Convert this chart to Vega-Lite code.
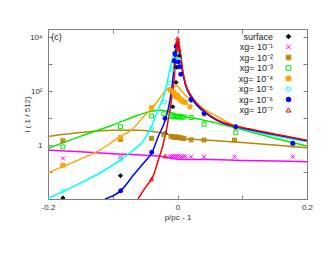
{
"$schema": "https://vega.github.io/schema/vega-lite/v6.json",
"width": 259, "height": 170,
"autosize": "none",
"padding": {"left": 48, "top": 29, "right": 23, "bottom": 56},
"config": {"font": "Liberation Sans", "view": {"stroke": "#808080", "strokeWidth": 1}},
"datasets": {
"lines": [
{"s":"xg= 10⁻¹","x":-0.2,"y":0.65},{"s":"xg= 10⁻¹","x":-0.15,"y":0.56},{"s":"xg= 10⁻¹","x":-0.1,"y":0.48},{"s":"xg= 10⁻¹","x":-0.05,"y":0.42},{"s":"xg= 10⁻¹","x":-0.022,"y":0.37},{"s":"xg= 10⁻¹","x":-0.009,"y":0.32},{"s":"xg= 10⁻¹","x":0,"y":0.3},{"s":"xg= 10⁻¹","x":0.05,"y":0.29},{"s":"xg= 10⁻¹","x":0.1,"y":0.27},{"s":"xg= 10⁻¹","x":0.15,"y":0.255},{"s":"xg= 10⁻¹","x":0.2,"y":0.24},
{"s":"xg= 10⁻²","x":-0.2,"y":2.07},{"s":"xg= 10⁻²","x":-0.15,"y":2.9},{"s":"xg= 10⁻²","x":-0.1,"y":3.5},{"s":"xg= 10⁻²","x":-0.06,"y":3.5},{"s":"xg= 10⁻²","x":-0.04,"y":3.2},{"s":"xg= 10⁻²","x":-0.02,"y":2.7},{"s":"xg= 10⁻²","x":-0.01,"y":2.3},{"s":"xg= 10⁻²","x":0,"y":1.9},{"s":"xg= 10⁻²","x":0.01,"y":1.75},{"s":"xg= 10⁻²","x":0.03,"y":1.6},{"s":"xg= 10⁻²","x":0.06,"y":1.45},{"s":"xg= 10⁻²","x":0.1,"y":1.25},{"s":"xg= 10⁻²","x":0.15,"y":1.0},{"s":"xg= 10⁻²","x":0.2,"y":0.79},
{"s":"xg= 10⁻³","x":-0.2,"y":0.75},{"s":"xg= 10⁻³","x":-0.15,"y":2.1},{"s":"xg= 10⁻³","x":-0.1,"y":5.5},{"s":"xg= 10⁻³","x":-0.06,"y":13},{"s":"xg= 10⁻³","x":-0.04,"y":18},{"s":"xg= 10⁻³","x":-0.025,"y":19.5},{"s":"xg= 10⁻³","x":-0.01,"y":16},{"s":"xg= 10⁻³","x":0,"y":13.5},{"s":"xg= 10⁻³","x":0.01,"y":11.5},{"s":"xg= 10⁻³","x":0.03,"y":9.5},{"s":"xg= 10⁻³","x":0.06,"y":6.5},{"s":"xg= 10⁻³","x":0.1,"y":3.7},{"s":"xg= 10⁻³","x":0.15,"y":1.8},{"s":"xg= 10⁻³","x":0.2,"y":0.92},
{"s":"xg= 10⁻⁴","x":-0.2,"y":0.094},{"s":"xg= 10⁻⁴","x":-0.15,"y":0.3},{"s":"xg= 10⁻⁴","x":-0.12,"y":0.65},{"s":"xg= 10⁻⁴","x":-0.09,"y":1.95},{"s":"xg= 10⁻⁴","x":-0.07,"y":3.8},{"s":"xg= 10⁻⁴","x":-0.05,"y":13},{"s":"xg= 10⁻⁴","x":-0.04,"y":22},{"s":"xg= 10⁻⁴","x":-0.03,"y":45},{"s":"xg= 10⁻⁴","x":-0.02,"y":95},{"s":"xg= 10⁻⁴","x":-0.01,"y":140},{"s":"xg= 10⁻⁴","x":0,"y":150},{"s":"xg= 10⁻⁴","x":0.005,"y":110},{"s":"xg= 10⁻⁴","x":0.01,"y":80},{"s":"xg= 10⁻⁴","x":0.02,"y":48},{"s":"xg= 10⁻⁴","x":0.03,"y":32},{"s":"xg= 10⁻⁴","x":0.04,"y":22},{"s":"xg= 10⁻⁴","x":0.06,"y":12},{"s":"xg= 10⁻⁴","x":0.08,"y":6.5},{"s":"xg= 10⁻⁴","x":0.11,"y":3.9},{"s":"xg= 10⁻⁴","x":0.16,"y":2.2},{"s":"xg= 10⁻⁴","x":0.2,"y":1.4},
{"s":"xg= 10⁻⁵","x":-0.2,"y":0.0105},{"s":"xg= 10⁻⁵","x":-0.15,"y":0.039},{"s":"xg= 10⁻⁵","x":-0.12,"y":0.092},{"s":"xg= 10⁻⁵","x":-0.088,"y":0.28},{"s":"xg= 10⁻⁵","x":-0.07,"y":0.6},{"s":"xg= 10⁻⁵","x":-0.053,"y":1.4},{"s":"xg= 10⁻⁵","x":-0.04,"y":5},{"s":"xg= 10⁻⁵","x":-0.03,"y":20},{"s":"xg= 10⁻⁵","x":-0.024,"y":45},{"s":"xg= 10⁻⁵","x":-0.018,"y":120},{"s":"xg= 10⁻⁵","x":-0.012,"y":600},{"s":"xg= 10⁻⁵","x":-0.006,"y":2000},{"s":"xg= 10⁻⁵","x":-0.002,"y":4500},{"s":"xg= 10⁻⁵","x":0,"y":5000},{"s":"xg= 10⁻⁵","x":0.003,"y":2000},{"s":"xg= 10⁻⁵","x":0.006,"y":900},{"s":"xg= 10⁻⁵","x":0.01,"y":300},{"s":"xg= 10⁻⁵","x":0.02,"y":65},{"s":"xg= 10⁻⁵","x":0.04,"y":18},{"s":"xg= 10⁻⁵","x":0.06,"y":8.5},{"s":"xg= 10⁻⁵","x":0.1,"y":4},{"s":"xg= 10⁻⁵","x":0.15,"y":2.2},{"s":"xg= 10⁻⁵","x":0.2,"y":1.35},
{"s":"xg= 10⁻⁶","x":-0.112,"y":0.01},{"s":"xg= 10⁻⁶","x":-0.088,"y":0.02},{"s":"xg= 10⁻⁶","x":-0.068,"y":0.077},{"s":"xg= 10⁻⁶","x":-0.05,"y":0.25},{"s":"xg= 10⁻⁶","x":-0.04,"y":0.5},{"s":"xg= 10⁻⁶","x":-0.03,"y":2},{"s":"xg= 10⁻⁶","x":-0.019,"y":8.4},{"s":"xg= 10⁻⁶","x":-0.0116,"y":46},{"s":"xg= 10⁻⁶","x":-0.006,"y":500},{"s":"xg= 10⁻⁶","x":-0.004,"y":1500},{"s":"xg= 10⁻⁶","x":-0.001,"y":6000},{"s":"xg= 10⁻⁶","x":0,"y":7000},{"s":"xg= 10⁻⁶","x":0.002,"y":4000},{"s":"xg= 10⁻⁶","x":0.005,"y":1500},{"s":"xg= 10⁻⁶","x":0.008,"y":500},{"s":"xg= 10⁻⁶","x":0.012,"y":180},{"s":"xg= 10⁻⁶","x":0.02,"y":65},{"s":"xg= 10⁻⁶","x":0.03,"y":30},{"s":"xg= 10⁻⁶","x":0.04,"y":18},{"s":"xg= 10⁻⁶","x":0.06,"y":8.5},{"s":"xg= 10⁻⁶","x":0.08,"y":5.5},{"s":"xg= 10⁻⁶","x":0.11,"y":3.8},{"s":"xg= 10⁻⁶","x":0.16,"y":2.2},{"s":"xg= 10⁻⁶","x":0.2,"y":1.45},
{"s":"xg= 10⁻⁷","x":-0.061,"y":0.01},{"s":"xg= 10⁻⁷","x":-0.05,"y":0.026},{"s":"xg= 10⁻⁷","x":-0.0363,"y":0.085},{"s":"xg= 10⁻⁷","x":-0.03,"y":0.26},{"s":"xg= 10⁻⁷","x":-0.0224,"y":1},{"s":"xg= 10⁻⁷","x":-0.0116,"y":20},{"s":"xg= 10⁻⁷","x":-0.0054,"y":255},{"s":"xg= 10⁻⁷","x":-0.0015,"y":3300},{"s":"xg= 10⁻⁷","x":0,"y":8500},{"s":"xg= 10⁻⁷","x":0.002,"y":6000},{"s":"xg= 10⁻⁷","x":0.005,"y":2200},{"s":"xg= 10⁻⁷","x":0.008,"y":600},{"s":"xg= 10⁻⁷","x":0.012,"y":200},{"s":"xg= 10⁻⁷","x":0.02,"y":75},{"s":"xg= 10⁻⁷","x":0.03,"y":35},{"s":"xg= 10⁻⁷","x":0.04,"y":20},{"s":"xg= 10⁻⁷","x":0.06,"y":9},{"s":"xg= 10⁻⁷","x":0.08,"y":5.8},{"s":"xg= 10⁻⁷","x":0.11,"y":4},{"s":"xg= 10⁻⁷","x":0.16,"y":2.3},{"s":"xg= 10⁻⁷","x":0.2,"y":1.5}
],
"pts": [
{"s":"surface","x":-0.177,"y":0.011},{"s":"surface","x":-0.088,"y":0.073},{"s":"surface","x":-0.019,"y":2.7},{"s":"surface","x":-0.0074,"y":26},{"s":"surface","x":-0.0023,"y":210},{"s":"surface","x":-0.0012,"y":760},{"s":"surface","x":-0.0039,"y":2700},{"s":"surface","x":0.0028,"y":2000},{"s":"surface","x":0.021,"y":45},{"s":"surface","x":0.041,"y":15},{"s":"surface","x":0.09,"y":4.6},{"s":"surface","x":0.178,"y":1.15},
{"s":"xg= 10⁻¹","x":-0.177,"y":0.32},{"s":"xg= 10⁻¹","x":-0.088,"y":0.35},{"s":"xg= 10⁻¹","x":-0.012,"y":0.38},{"s":"xg= 10⁻¹","x":-0.009,"y":0.38},{"s":"xg= 10⁻¹","x":-0.006,"y":0.39},{"s":"xg= 10⁻¹","x":-0.003,"y":0.38},{"s":"xg= 10⁻¹","x":0,"y":0.39},{"s":"xg= 10⁻¹","x":0.003,"y":0.38},{"s":"xg= 10⁻¹","x":0.006,"y":0.38},{"s":"xg= 10⁻¹","x":0.009,"y":0.37},{"s":"xg= 10⁻¹","x":0.012,"y":0.38},{"s":"xg= 10⁻¹","x":0.021,"y":0.37},{"s":"xg= 10⁻¹","x":0.041,"y":0.37},{"s":"xg= 10⁻¹","x":0.088,"y":0.37},{"s":"xg= 10⁻¹","x":0.178,"y":0.37},
{"s":"xg= 10⁻²","x":-0.177,"y":1.44},{"s":"xg= 10⁻²","x":-0.088,"y":1.63},{"s":"xg= 10⁻²","x":-0.04,"y":1.77},{"s":"xg= 10⁻²","x":-0.021,"y":2.5},{"s":"xg= 10⁻²","x":-0.01,"y":2.1},{"s":"xg= 10⁻²","x":-0.007,"y":2.0},{"s":"xg= 10⁻²","x":-0.004,"y":1.9},{"s":"xg= 10⁻²","x":-0.002,"y":2.0},{"s":"xg= 10⁻²","x":0,"y":1.95},{"s":"xg= 10⁻²","x":0.002,"y":1.85},{"s":"xg= 10⁻²","x":0.004,"y":1.9},{"s":"xg= 10⁻²","x":0.007,"y":1.8},{"s":"xg= 10⁻²","x":0.01,"y":1.75},{"s":"xg= 10⁻²","x":0.021,"y":1.55},{"s":"xg= 10⁻²","x":0.041,"y":1.53},{"s":"xg= 10⁻²","x":0.088,"y":1.53},{"s":"xg= 10⁻²","x":0.178,"y":1.0},
{"s":"xg= 10⁻³","x":-0.177,"y":0.85},{"s":"xg= 10⁻³","x":-0.088,"y":4.8},{"s":"xg= 10⁻³","x":-0.04,"y":11.9},{"s":"xg= 10⁻³","x":-0.021,"y":14.4},{"s":"xg= 10⁻³","x":-0.01,"y":11.5},{"s":"xg= 10⁻³","x":-0.007,"y":11.8},{"s":"xg= 10⁻³","x":-0.004,"y":11},{"s":"xg= 10⁻³","x":-0.002,"y":11.5},{"s":"xg= 10⁻³","x":0,"y":11.2},{"s":"xg= 10⁻³","x":0.002,"y":11},{"s":"xg= 10⁻³","x":0.004,"y":11.3},{"s":"xg= 10⁻³","x":0.007,"y":10.8},{"s":"xg= 10⁻³","x":0.01,"y":11},{"s":"xg= 10⁻³","x":0.021,"y":10.5},{"s":"xg= 10⁻³","x":0.041,"y":5.9},{"s":"xg= 10⁻³","x":0.09,"y":2.86},{"s":"xg= 10⁻³","x":0.178,"y":1.16},
{"s":"xg= 10⁻⁴","x":-0.177,"y":0.18},{"s":"xg= 10⁻⁴","x":-0.088,"y":1.93},{"s":"xg= 10⁻⁴","x":-0.04,"y":24},{"s":"xg= 10⁻⁴","x":-0.0116,"y":109},{"s":"xg= 10⁻⁴","x":-0.006,"y":90},{"s":"xg= 10⁻⁴","x":-0.004,"y":75},{"s":"xg= 10⁻⁴","x":-0.002,"y":60},{"s":"xg= 10⁻⁴","x":0,"y":70},{"s":"xg= 10⁻⁴","x":0.002,"y":55},{"s":"xg= 10⁻⁴","x":0.004,"y":50},{"s":"xg= 10⁻⁴","x":0.006,"y":45},{"s":"xg= 10⁻⁴","x":0.008,"y":42},{"s":"xg= 10⁻⁴","x":0.01,"y":40},{"s":"xg= 10⁻⁴","x":0.012,"y":38},{"s":"xg= 10⁻⁴","x":0.0193,"y":26},{"s":"xg= 10⁻⁴","x":0.041,"y":14},{"s":"xg= 10⁻⁴","x":0.09,"y":4.5},{"s":"xg= 10⁻⁴","x":0.178,"y":1.12},
{"s":"xg= 10⁻⁵","x":-0.177,"y":0.02},{"s":"xg= 10⁻⁵","x":-0.088,"y":0.29},{"s":"xg= 10⁻⁵","x":-0.04,"y":4},{"s":"xg= 10⁻⁵","x":-0.02,"y":40},{"s":"xg= 10⁻⁵","x":-0.012,"y":200},{"s":"xg= 10⁻⁵","x":-0.008,"y":600},{"s":"xg= 10⁻⁵","x":-0.005,"y":1500},{"s":"xg= 10⁻⁵","x":-0.002,"y":3000},{"s":"xg= 10⁻⁵","x":0.002,"y":1500},{"s":"xg= 10⁻⁵","x":0.021,"y":48},{"s":"xg= 10⁻⁵","x":0.041,"y":15},{"s":"xg= 10⁻⁵","x":0.09,"y":4.7},{"s":"xg= 10⁻⁵","x":0.178,"y":1.15},
{"s":"xg= 10⁻⁶","x":-0.0877,"y":0.0203},{"s":"xg= 10⁻⁶","x":-0.0398,"y":0.54},{"s":"xg= 10⁻⁶","x":-0.0193,"y":9.7},{"s":"xg= 10⁻⁶","x":-0.0054,"y":1320},{"s":"xg= 10⁻⁶","x":-0.0039,"y":2340},{"s":"xg= 10⁻⁶","x":-0.002,"y":4500},{"s":"xg= 10⁻⁶","x":0.001,"y":1200},{"s":"xg= 10⁻⁶","x":0.003,"y":800},{"s":"xg= 10⁻⁶","x":0.005,"y":420},{"s":"xg= 10⁻⁶","x":0.0209,"y":49},{"s":"xg= 10⁻⁶","x":0.0414,"y":14.9},{"s":"xg= 10⁻⁶","x":0.0899,"y":4.76},{"s":"xg= 10⁻⁶","x":0.178,"y":1.16},
{"s":"xg= 10⁻⁷","x":-0.04,"y":0.055},{"s":"xg= 10⁻⁷","x":-0.019,"y":0.39},{"s":"xg= 10⁻⁷","x":-0.001,"y":6000},{"s":"xg= 10⁻⁷","x":-0.0005,"y":4000},{"s":"xg= 10⁻⁷","x":0,"y":9000},{"s":"xg= 10⁻⁷","x":0.0005,"y":7000},{"s":"xg= 10⁻⁷","x":0.001,"y":5000},{"s":"xg= 10⁻⁷","x":0.002,"y":3500}
]
},
"layer": [
{
"data": {"name": "lines"},
"mark": {"type": "line", "strokeWidth": 1.5, "clip": true, "interpolate": "monotone"},
"encoding": {
"x": {"field": "x", "type": "quantitative", "scale": {"domain": [-0.2, 0.2], "nice": false, "zero": false},
 "axis": {"orient": "bottom", "values": [-0.2, -0.1, 0, 0.1, 0.2], "labelExpr": "datum.value == -0.2 ? '-0.2' : datum.value == 0 ? '0' : datum.value == 0.2 ? '0.2' : ''", "tickSize": -4, "tickColor": "#808080", "labelPadding": 8, "labelFontSize": 8, "labelColor": "#333333", "labelFlush": false, "domain": false, "grid": false, "title": "p/pc - 1", "titleFontSize": 8, "titleFontWeight": "normal", "titleColor": "#333333", "titlePadding": 2}},
"y": {"field": "y", "type": "quantitative", "scale": {"type": "log", "domain": [0.01, 20000], "nice": false},
 "axis": {"orient": "left", "values": [0.01, 0.1, 1, 10, 100, 1000, 10000], "labelExpr": "datum.value == 1 ? '1' : datum.value == 100 ? '10²' : datum.value == 10000 ? '10⁴' : ''", "tickSize": -4, "tickColor": "#808080", "labelPadding": 10, "labelFontSize": 8, "labelColor": "#333333", "labelFlush": false, "domain": false, "grid": false, "title": "I ( 1 / 512)", "titleFontSize": 8, "titleFontWeight": "normal", "titleColor": "#333333", "titleX": -17, "titleBaseline": "bottom"}},
"color": {"field": "s", "type": "nominal", "scale": {"domain": ["xg= 10⁻¹","xg= 10⁻²","xg= 10⁻³","xg= 10⁻⁴","xg= 10⁻⁵","xg= 10⁻⁶","xg= 10⁻⁷"], "range": ["#ff00ff","#b8860b","#00ee00","#ffa500","#00ffff","#0000ff","#ff0000"]}, "legend": null}
}
},
{
"data": {"name": "pts"},
"mark": {"type": "point", "filled": false, "strokeWidth": 1, "size": 16, "clip": true, "opacity": 1},
"encoding": {
"x": {"field": "x", "type": "quantitative", "axis": null},
"y": {"field": "y", "type": "quantitative", "axis": null},
"shape": {"field": "s", "type": "nominal", "scale": {"domain": ["surface","xg= 10⁻¹","xg= 10⁻²","xg= 10⁻³","xg= 10⁻⁴","xg= 10⁻⁵","xg= 10⁻⁶","xg= 10⁻⁷"], "range": ["diamond", "M-1,-1L1,1M-1,1L1,-1", "M-1,-1L1,-1L1,1L-1,1ZM-1,-1L1,1M-1,1L1,-1M0,-1L0,1M-1,0L1,0", "square", "square", "circle", "circle", "triangle-up"]},
 "legend": {"title": null, "orient": "none", "legendX": 236, "legendY": 3, "labelAlign": "right", "labelOffset": -20, "labelFontSize": 9, "labelColor": "#222222", "rowPadding": 0.5, "padding": 0, "symbolSize": 22, "symbolStrokeWidth": 1}},
"stroke": {"field": "s", "type": "nominal", "scale": {"domain": ["surface","xg= 10⁻¹","xg= 10⁻²","xg= 10⁻³","xg= 10⁻⁴","xg= 10⁻⁵","xg= 10⁻⁶","xg= 10⁻⁷"], "range": ["#000000","#ff00ff","#b8860b","#00ee00","#ffa500","#00ffff","#0000ff","#ff0000"]}},
"fill": {"field": "s", "type": "nominal", "scale": {"domain": ["surface","xg= 10⁻¹","xg= 10⁻²","xg= 10⁻³","xg= 10⁻⁴","xg= 10⁻⁵","xg= 10⁻⁶","xg= 10⁻⁷"], "range": ["#000000","transparent","transparent","transparent","#ffa500","transparent","#0000ff","transparent"]}}
}
},
{
"data": {"values": [{"t": "(c)"}]},
"mark": {"type": "text", "align": "left", "baseline": "middle", "fontSize": 9, "color": "#222222"},
"encoding": {
"x": {"datum": -0.195, "type": "quantitative", "axis": null},
"y": {"datum": 10000, "type": "quantitative", "axis": null},
"text": {"field": "t"}
}
},
{
"data": {"name": "pts"},
"mark": {"type": "point", "opacity": 0},
"encoding": {
"x": {"field": "x", "type": "quantitative", "axis": {"orient": "top", "values": [-0.2, -0.1, 0, 0.1, 0.2], "labels": false, "tickSize": -4, "tickColor": "#808080", "domain": false, "grid": false, "title": null}},
"y": {"field": "y", "type": "quantitative", "axis": {"orient": "right", "values": [0.01, 0.1, 1, 10, 100, 1000, 10000], "labels": false, "tickSize": -4, "tickColor": "#808080", "domain": false, "grid": false, "title": null}}
}
}
],
"resolve": {"axis": {"x": "independent", "y": "independent"}}
}
